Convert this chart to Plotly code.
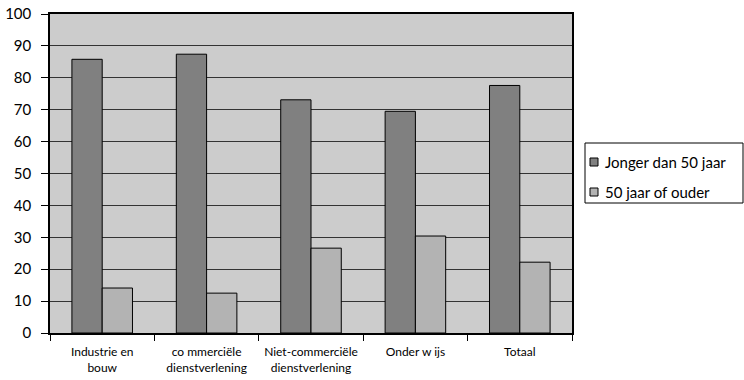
import plotly.graph_objects as go

categories = ["Industrie en<br>bouw", "co mmerciële<br>dienstverlening", "Niet-commerciële<br>dienstverlening", "Onder w ijs", "Totaal"]
jonger = [85.8, 87.4, 73.1, 69.5, 77.6]
ouder = [14.1, 12.5, 26.6, 30.4, 22.2]
series_names = ["Jonger dan 50 jaar", "50 jaar of ouder"]
series_colors = ["#808080", "#b3b3b3"]
y_ticks = [0, 10, 20, 30, 40, 50, 60, 70, 80, 90, 100]

font_family = "Lato, 'Open Sans', sans-serif"

fig = go.Figure()
for vals, name, col in zip([jonger, ouder], series_names, series_colors):
    fig.add_trace(go.Bar(x=categories, y=vals, name=name,
                         marker=dict(color=col, line=dict(color="#000000", width=1))))

W, H = 744, 380
ml, mr, mt, mb = 50, 172, 14, 47
pw, ph = W - ml - mr, H - mt - mb

def px_x(x):
    return (x - ml) / pw

def px_y(y):
    return (H - mb - y) / ph

shapes = []
annotations = []
# legend box
shapes.append(dict(type="rect", xref="paper", yref="paper",
                   x0=px_x(585), x1=px_x(743), y0=px_y(203), y1=px_y(143),
                   line=dict(color="#000000", width=1), fillcolor="white", layer="above"))
for i, (name, col) in enumerate(zip(series_names, series_colors)):
    cy = 162 + 30 * i
    shapes.append(dict(type="rect", xref="paper", yref="paper",
                       x0=px_x(590), x1=px_x(598), y0=px_y(cy + 4), y1=px_y(cy - 4),
                       line=dict(color="#000000", width=1), fillcolor=col, layer="above"))
    annotations.append(dict(xref="paper", yref="paper", x=px_x(603), y=px_y(cy),
                            xanchor="left", yanchor="middle", showarrow=False,
                            text=name, font=dict(size=15, family=font_family, color="#000000")))

fig.update_layout(
    width=W, height=H,
    margin=dict(l=ml, r=mr, t=mt, b=mb, autoexpand=False),
    paper_bgcolor="white",
    plot_bgcolor="#cccccc",
    barmode="group",
    bargap=0.42,
    bargroupgap=0,
    showlegend=False,
    font=dict(family=font_family, color="#000000"),
    shapes=shapes,
    annotations=annotations,
)
fig.update_xaxes(
    type="category", tickson="boundaries", ticks="outside", ticklen=6,
    tickcolor="#000000", showline=True, linecolor="#000000", linewidth=1.5,
    mirror=True, showgrid=False, tickfont=dict(size=12), ticklabelstandoff=7,
    automargin=False,
)
fig.update_yaxes(
    range=[0, 100], tickvals=y_ticks, ticks="outside", ticklen=7,
    tickcolor="#000000", showline=True, linecolor="#000000", linewidth=1.5,
    mirror=True, showgrid=True, gridcolor="#333333", gridwidth=1,
    tickfont=dict(size=15), zeroline=False, ticklabelstandoff=7,
    automargin=False,
)

fig.write_html("out.html")
